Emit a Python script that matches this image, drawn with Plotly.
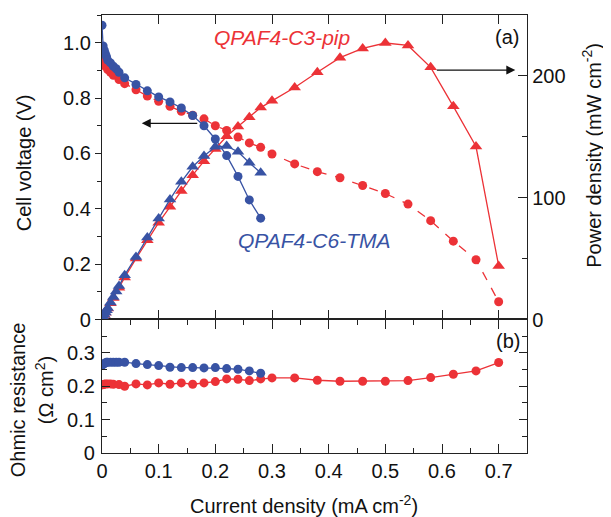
import plotly.graph_objects as go

# ---------------- data ----------------
# QPAF4-C3-pip (red)
x_red = [0, 0.002, 0.004, 0.006, 0.01, 0.015, 0.02, 0.03, 0.04,
         0.06, 0.08, 0.10, 0.12, 0.14, 0.16, 0.18, 0.20, 0.22, 0.24, 0.26, 0.28, 0.30,
         0.34, 0.38, 0.42, 0.46, 0.50, 0.54, 0.58, 0.62, 0.66, 0.70]
v_red = [0.96, 0.946, 0.928, 0.915, 0.903, 0.893, 0.882, 0.867, 0.852,
         0.830, 0.807, 0.788, 0.770, 0.752, 0.738, 0.725, 0.700, 0.683, 0.659, 0.638, 0.622, 0.598,
         0.562, 0.534, 0.512, 0.484, 0.455, 0.417, 0.357, 0.283, 0.216, 0.064]
p_red = [0, 1.9, 3.7, 5.5, 9.0, 13.4, 17.6, 26.0, 34.5,
         50.0, 65.0, 79.5, 92.5, 105.5, 118.5, 130.0, 140.0, 150.5, 158.5, 166.0, 174.0, 179.5,
         190.5, 203.0, 215.0, 222.5, 227.0, 225.0, 207.0, 175.0, 142.0, 44.0]
r_red = [0.204, 0.205, 0.206, 0.207, 0.207, 0.207, 0.206, 0.205, 0.200,
         0.207, 0.204, 0.210, 0.206, 0.210, 0.206, 0.210, 0.214, 0.222, 0.221, 0.217, 0.222, 0.225,
         0.225, 0.218, 0.215, 0.215, 0.215, 0.217, 0.226, 0.236, 0.246, 0.271]

# QPAF4-C6-TMA (blue)
x_blue = [0, 0.002, 0.004, 0.006, 0.008, 0.01, 0.015, 0.02, 0.025, 0.03, 0.04,
          0.06, 0.08, 0.10, 0.12, 0.14, 0.16, 0.18, 0.20, 0.22, 0.24, 0.26, 0.28]
v_blue = [1.063, 0.988, 0.973, 0.960, 0.949, 0.937, 0.927, 0.915, 0.906, 0.893, 0.873,
          0.849, 0.826, 0.804, 0.786, 0.764, 0.737, 0.700, 0.652, 0.592, 0.517, 0.432, 0.366]
p_blue = [0, 2.0, 3.9, 5.8, 7.6, 9.4, 14.0, 18.5, 23.0, 27.5, 36.4,
          51.4, 67.4, 83.0, 98.6, 113.0, 125.4, 134.2, 141.8, 142.4, 137.7, 128.7, 120.5]
r_blue = [0.263, 0.266, 0.268, 0.270, 0.272, 0.272, 0.272, 0.272, 0.272, 0.272, 0.272,
          0.268, 0.265, 0.262, 0.257, 0.256, 0.256, 0.255, 0.256, 0.253, 0.251, 0.246, 0.239]

x_ticks = [0, 0.1, 0.2, 0.3, 0.4, 0.5, 0.6, 0.7]
x_ticktext = ["0", "0.1", "0.2", "0.3", "0.4", "0.5", "0.6", "0.7"]
v_ticks = [0, 0.2, 0.4, 0.6, 0.8, 1.0]
v_ticktext = ["0", "0.2", "0.4", "0.6", "0.8", "1.0"]
p_ticks = [0, 100, 200]
r_ticks = [0, 0.1, 0.2, 0.3]
r_ticktext = ["0", "0.1", "0.2", "0.3"]

RED = "#EC3237"
BLUE = "#3853A4"
AX = "#222222"
FONT = "Liberation Sans, Arial, sans-serif"
FS = 20

fig = go.Figure()

# top panel: voltage (left) and power (right)
fig.add_trace(go.Scatter(x=x_red, y=v_red, xaxis="x2", yaxis="y2", mode="lines+markers",
                         line=dict(color=RED, width=1.3, dash="dash"),
                         marker=dict(symbol="circle", size=9, color=RED), showlegend=False))
fig.add_trace(go.Scatter(x=x_red, y=p_red, xaxis="x2", yaxis="y3", mode="lines+markers",
                         line=dict(color=RED, width=1.3),
                         marker=dict(symbol="triangle-up", size=11, color=RED), showlegend=False))
fig.add_trace(go.Scatter(x=x_blue, y=v_blue, xaxis="x2", yaxis="y2", mode="lines+markers",
                         line=dict(color=BLUE, width=1.3),
                         marker=dict(symbol="circle", size=9, color=BLUE), showlegend=False))
fig.add_trace(go.Scatter(x=x_blue, y=p_blue, xaxis="x2", yaxis="y3", mode="lines+markers",
                         line=dict(color=BLUE, width=1.3),
                         marker=dict(symbol="triangle-up", size=11, color=BLUE), showlegend=False))

# bottom panel: ohmic resistance
fig.add_trace(go.Scatter(x=x_red, y=r_red, xaxis="x", yaxis="y", mode="lines+markers",
                         line=dict(color=RED, width=1.3),
                         marker=dict(symbol="circle", size=9, color=RED), showlegend=False))
fig.add_trace(go.Scatter(x=x_blue, y=r_blue, xaxis="x", yaxis="y", mode="lines+markers",
                         line=dict(color=BLUE, width=1.3),
                         marker=dict(symbol="circle", size=9, color=BLUE), showlegend=False))

split = 0.3048
tickfont = dict(family=FONT, size=FS, color="#111")

# page body has an 8px margin: figure is sized/offset to compensate
fig.update_layout(
    width=603, height=509,
    margin=dict(l=94, r=84.3, t=7, b=64.3),
    paper_bgcolor="white", plot_bgcolor="white",
    font=dict(family=FONT, size=FS, color="#111"),
    xaxis=dict(domain=[0, 1], anchor="y", range=[0, 0.75], tickvals=x_ticks, ticktext=x_ticktext,
               ticks="inside", ticklen=9, tickwidth=1.3, tickcolor=AX,
               minor=dict(dtick=0.05, ticks="inside", ticklen=5, tickwidth=1.3, tickcolor=AX),
               showline=True, linecolor=AX, linewidth=1.3, mirror="ticks",
               showgrid=False, zeroline=False, tickfont=tickfont),
    xaxis2=dict(domain=[0, 1], anchor="y2", range=[0, 0.75], tickvals=x_ticks, showticklabels=False,
                ticks="inside", ticklen=9, tickwidth=1.3, tickcolor=AX,
                showline=True, linecolor=AX, linewidth=1.3, mirror="ticks",
                showgrid=False, zeroline=False, matches="x"),
    yaxis=dict(domain=[0, split], anchor="x", range=[0, 0.4], tickvals=r_ticks, ticktext=r_ticktext,
               ticks="inside", ticklen=8, tickwidth=1.3, tickcolor=AX,
               minor=dict(dtick=0.05, ticks="inside", ticklen=5, tickwidth=1.3, tickcolor=AX),
               showline=True, linecolor=AX, linewidth=1.3, mirror="ticks",
               showgrid=False, zeroline=False, tickfont=tickfont, ticklabelstandoff=2),
    yaxis2=dict(domain=[split, 1], anchor="x2", range=[0, 1.1], tickvals=v_ticks, ticktext=v_ticktext,
                ticks="outside", ticklen=6, tickwidth=1.3, tickcolor=AX,
                minor=dict(dtick=0.1, ticks="outside", ticklen=4, tickwidth=1.3, tickcolor=AX),
                showline=True, linecolor=AX, linewidth=1.3,
                showgrid=False, zeroline=False, tickfont=tickfont),
    yaxis3=dict(domain=[split, 1], anchor="x2", overlaying="y2", side="right", range=[0, 250],
                tickvals=p_ticks, ticks="inside", ticklen=9, tickwidth=1.3, tickcolor=AX,
                minor=dict(dtick=50, ticks="inside", ticklen=5, tickwidth=1.3, tickcolor=AX),
                showline=True, linecolor=AX, linewidth=1.3,
                showgrid=False, zeroline=False, tickfont=tickfont),
)

def ann(text, x, y, angle=0, color="#111", size=FS, italic=False):
    if italic:
        text = "<i>" + text + "</i>"
    fig.add_annotation(text=text, x=x, y=y, xref="paper", yref="paper", showarrow=False,
                       textangle=angle, xanchor="center", yanchor="middle",
                       font=dict(family=FONT, size=size, color=color))

ann("Cell voltage (V)", -0.1837, 0.6637, angle=-90)
ann("Power density (mW cm<sup>-2</sup>)", 1.152, 0.680, angle=-90)
ann("Ohmic resistance", -0.1978, 0.1227, angle=-90)
ann("(Ω cm<sup>2</sup>)", -0.1366, 0.1433, angle=-90)
ann("Current density (mA cm<sup>-2</sup>)", 0.4756, -0.1174)
ann("QPAF4-C3-pip", 0.4238, 0.9497, color=RED, size=21, italic=True)
ann("QPAF4-C6-TMA", 0.4992, 0.4859, color=BLUE, size=21, italic=True)
ann("(a)", 0.9536, 0.9497)
ann("(b)", 0.956, 0.2552)

# arrows
fig.add_annotation(x=0.0935, y=0.7526, xref="paper", yref="paper", ax=60, ay=0,
                   showarrow=True, arrowhead=2, arrowsize=1.5, arrowwidth=1.2, arrowcolor="#111", text=" ")
fig.add_annotation(x=0.9725, y=0.8743, xref="paper", yref="paper", ax=-83, ay=0,
                   showarrow=True, arrowhead=2, arrowsize=1.5, arrowwidth=1.2, arrowcolor="#111", text=" ")

fig.write_html("out.html")
